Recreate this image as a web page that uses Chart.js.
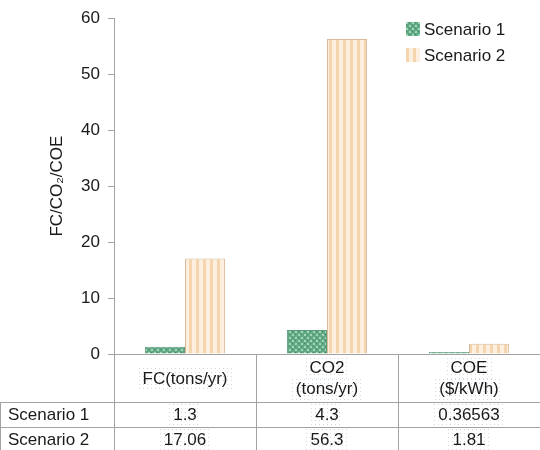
<!DOCTYPE html>
<html>
<head>
<meta charset="utf-8">
<script src="https://cdn.jsdelivr.net/npm/chart.js@4/dist/chart.umd.min.js"></script>
<style>
  html, body { margin: 0; padding: 0; background: #ffffff; }
  canvas { display: block; }
</style>
</head>
<body>
<canvas id="chart" width="540" height="450"></canvas>
<script>
// Categories (multi-line header labels of the data table)
const categories = [['FC(tons/yr)'], ['CO2', '(tons/yr)'], ['COE', '($/kWh)']];
const seriesNames = ['Scenario 1', 'Scenario 2'];
const scenario1 = [1.3, 4.3, 0.36563];
const scenario2 = [17.06, 56.3, 1.81];
const yMin = 0, yMax = 60, yStep = 10;

const FONT = '"Liberation Sans", Arial, Helvetica, sans-serif';
const TEXT = '#1a1a1a';
const LINE = '#a2a2a2';

// Fill patterns: dotted green and vertical peach stripes
function makeDots() {
  const c = document.createElement('canvas');
  c.width = 6; c.height = 6;
  const g = c.getContext('2d');
  g.fillStyle = '#62aa86'; g.fillRect(0, 0, 6, 6);
  g.fillStyle = '#a3d6b9'; g.fillRect(1, 1, 2, 2); g.fillRect(4, 4, 2, 2);
  g.fillStyle = '#3f8663'; g.fillRect(4, 1, 1, 1); g.fillRect(1, 4, 1, 1);
  return g.createPattern(c, 'repeat');
}
function makeStripes() {
  const c = document.createElement('canvas');
  c.width = 7; c.height = 7;
  const g = c.getContext('2d');
  g.fillStyle = '#fcefdf'; g.fillRect(0, 0, 7, 7);
  g.fillStyle = '#f5d5ae'; g.fillRect(0, 0, 3, 7);
  return g.createPattern(c, 'repeat');
}
const greenFill = makeDots();
const peachFill = makeStripes();

// Faint dotted highlight behind table text
function dottedBox(ctx, x, y, w, h) {
  ctx.save();
  ctx.fillStyle = 'rgba(150,170,200,0.45)';
  for (let yy = Math.round(y); yy < y + h; yy += 4) {
    for (let xx = Math.round(x); xx < x + w; xx += 4) {
      ctx.fillRect(xx, yy, 1, 1);
    }
  }
  ctx.restore();
}

function cellText(ctx, text, cx, cy, highlight) {
  const w = ctx.measureText(text).width;
  if (highlight) dottedBox(ctx, cx - w / 2 - 4, cy - 11, w + 8, 22);
  ctx.fillText(text, cx, cy);
}

const tablePlugin = {
  id: 'dataTable',
  afterDraw(chart) {
    const { ctx, chartArea: { left, right, bottom }, scales: { x } } = chart;
    const H = chart.height;
    const headerBottom = bottom + 48;
    const row1Bottom = headerBottom + 25;
    const row2Bottom = row1Bottom + 25;
    const n = categories.length;
    const edges = [];
    for (let i = 0; i <= n; i++) {
      if (i === 0) edges.push(left);
      else if (i === n) edges.push(right);
      else edges.push((x.getPixelForValue(i - 1) + x.getPixelForValue(i)) / 2);
    }

    ctx.save();
    ctx.strokeStyle = LINE;
    ctx.lineWidth = 1;
    ctx.beginPath();
    // vertical column separators
    edges.slice(0, n).forEach(e => {
      const xx = Math.round(e) + 0.5;
      ctx.moveTo(xx, bottom); ctx.lineTo(xx, H);
    });
    // row separators
    [headerBottom, row1Bottom, row2Bottom].forEach(yv => {
      ctx.moveTo(0, yv + 0.5); ctx.lineTo(right, yv + 0.5);
    });
    // left border of the series rows
    ctx.moveTo(0.5, headerBottom); ctx.lineTo(0.5, H);
    ctx.stroke();

    ctx.font = '17px ' + FONT;
    ctx.fillStyle = TEXT;
    ctx.textBaseline = 'middle';
    ctx.textAlign = 'center';
    // header row
    categories.forEach((lines, i) => {
      const cx = x.getPixelForValue(i);
      const mid = (bottom + headerBottom) / 2 + 1;
      const lh = 21;
      lines.forEach((t, k) => {
        const cy = mid + (k - (lines.length - 1) / 2) * lh;
        cellText(ctx, t, cx, cy, true);
      });
    });
    // value rows
    const series = [scenario1, scenario2];
    const rowTops = [headerBottom, row1Bottom];
    series.forEach((vals, r) => {
      const cy = rowTops[r] + 13;
      ctx.textAlign = 'left';
      ctx.fillText(seriesNames[r], 8, cy);
      ctx.textAlign = 'center';
      vals.forEach((v, i) => {
        cellText(ctx, String(v), x.getPixelForValue(i), cy, true);
      });
    });

    // legend, stacked at the top right
    ctx.textAlign = 'left';
    chart.data.datasets.forEach((ds, i) => {
      const cy = 29 + i * 26;
      ctx.fillStyle = ds.backgroundColor;
      ctx.fillRect(406, cy - 7, 14, 14);
      ctx.fillStyle = TEXT;
      ctx.fillText(ds.label, 424, cy + 1);
    });
    ctx.restore();
  }
};

new Chart(document.getElementById('chart'), {
  type: 'bar',
  data: {
    labels: categories.map(c => c.join(' ')),
    datasets: [
      {
        label: seriesNames[0],
        data: scenario1,
        backgroundColor: greenFill,
        borderColor: '#5e9c7c',
        borderWidth: 1
      },
      {
        label: seriesNames[1],
        data: scenario2,
        backgroundColor: peachFill,
        borderColor: '#d8b998',
        borderWidth: 1
      }
    ]
  },
  options: {
    responsive: false,
    animation: false,
    layout: { padding: { top: 15, right: 0, bottom: 88, left: 0 } },
    datasets: { bar: { categoryPercentage: 0.565, barPercentage: 1.0 } },
    plugins: {
      legend: { display: false },
      tooltip: { enabled: false }
    },
    scales: {
      x: {
        grid: { display: false },
        ticks: { display: false },
        border: { display: true, color: LINE, width: 1 }
      },
      y: {
        min: yMin,
        max: yMax,
        ticks: {
          stepSize: yStep,
          padding: 8,
          color: TEXT,
          font: { family: FONT, size: 17 }
        },
        grid: { drawOnChartArea: false, tickLength: 6, color: LINE },
        border: { color: LINE, width: 1 },
        title: {
          display: true,
          text: 'FC/CO\u2082/COE',
          color: TEXT,
          font: { family: FONT, size: 17 },
          padding: { top: 47, bottom: 0 }
        },
        afterFit(scale) { scale.width = 114; }
      }
    }
  },
  plugins: [tablePlugin]
});
</script>
</body>
</html>
